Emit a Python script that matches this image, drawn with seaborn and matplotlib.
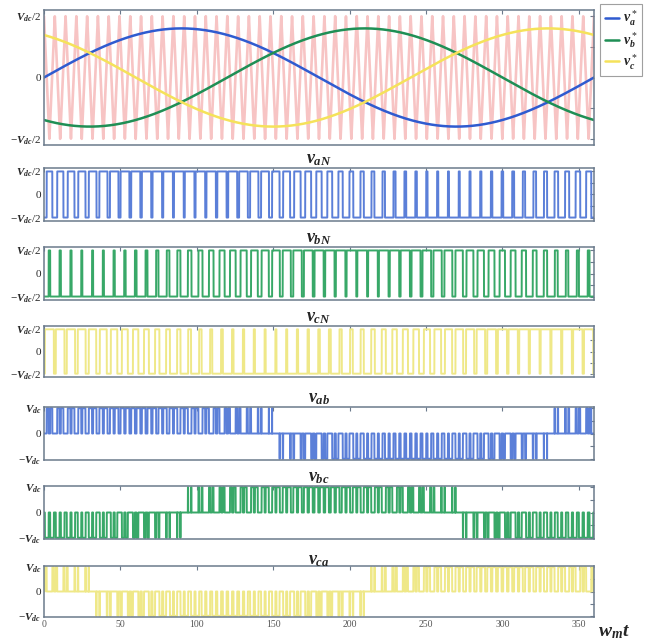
import numpy as np
import pandas as pd
import matplotlib
matplotlib.use("Agg")
import matplotlib.pyplot as plt
import seaborn as sns

# ---- data ----
angle_range = [0, 360]          # w_m t in degrees
mod_index = 0.8                 # reference peak / carrier peak
carrier_ratio = 51              # carrier periods per fundamental period
phase_a = 0
phase_b = -120
phase_c = 120
x_ticks = [0, 50, 100, 150, 200, 250, 300, 350]
ref_labels = [r"$v_a^*$", r"$v_b^*$", r"$v_c^*$"]
phase_titles = [r"$v_{aN}$", r"$v_{bN}$", r"$v_{cN}$"]
line_titles = [r"$v_{ab}$", r"$v_{bc}$", r"$v_{ca}$"]
half_labels = [r"$-V_{dc}/2$", "0", r"$V_{dc}/2$"]
full_labels = [r"$-V_{dc}$", "0", r"$V_{dc}$"]

# ---- style ----
sns.set_theme(style="white")
plt.rcParams["mathtext.fontset"] = "custom"
plt.rcParams["mathtext.rm"] = "Liberation Serif"
plt.rcParams["mathtext.it"] = "Liberation Serif:italic:bold"
plt.rcParams["mathtext.bf"] = "Liberation Serif:bold"
plt.rcParams["font.family"] = ["Liberation Serif", "DejaVu Sans"]

col_a, col_b, col_c = "#2f5bd0", "#1f8f55", "#f5e25a"
pwm_a, pwm_b, pwm_c = "#5b7fd8", "#38a868", "#efe888"
carrier_col = "#f08a8a"
frame_col = "#6b7a8c"

# ---- signals ----
theta = np.linspace(angle_range[0], angle_range[1], 24001)
ref_a = mod_index * np.sin(np.radians(theta + phase_a))
ref_b = mod_index * np.sin(np.radians(theta + phase_b))
ref_c = mod_index * np.sin(np.radians(theta + phase_c))
frac = (theta * carrier_ratio / 360.0) % 1.0
carrier = 2 * np.abs(2 * frac - 1) - 1

vaN = np.where(ref_a > carrier, 1.0, -1.0)
vbN = np.where(ref_b > carrier, 1.0, -1.0)
vcN = np.where(ref_c > carrier, 1.0, -1.0)
vab = (vaN - vbN) / 2
vbc = (vbN - vcN) / 2
vca = (vcN - vaN) / 2

df = pd.DataFrame({"theta": theta, "carrier": carrier, "ra": ref_a, "rb": ref_b, "rc": ref_c,
                   "vaN": vaN, "vbN": vbN, "vcN": vcN, "vab": vab, "vbc": vbc, "vca": vca})

W, H = 653, 644
fig = plt.figure(figsize=(W / 100, H / 100), dpi=100)

def box(y_top, y_bot):
    return [44 / W, (H - y_bot) / H, 550 / W, (y_bot - y_top) / H]

def style_axes(ax, ylim, ylabels, show_x=False):
    ax.set_xlim(angle_range)
    ax.set_ylim(ylim)
    ax.set_xticks(x_ticks)
    ax.set_yticks([-1, -0.5, 0, 0.5, 1])
    ax.set_yticklabels([ylabels[0], "", ylabels[1], "", ylabels[2]])
    ax.tick_params(direction="in", length=3, width=0.8, color=frame_col,
                   top=True, right=True, labelsize=8, pad=2)
    if not show_x:
        ax.set_xticklabels([])
    else:
        for t in ax.get_xticklabels():
            t.set_fontsize(7)
            t.set_color("#555555")
    for s in ax.spines.values():
        s.set_color(frame_col)
        s.set_linewidth(1.1)
        s.set_visible(True)
    ax.set_xlabel("")
    ax.set_ylabel("")

# top panel
ax0 = fig.add_axes(box(10, 145))
sns.lineplot(data=df, x="theta", y="carrier", ax=ax0, color=carrier_col, lw=1.9,
             alpha=0.5, estimator=None, sort=False)
for key, c, lab in zip(["ra", "rb", "rc"], [col_a, col_b, col_c], ref_labels):
    sns.lineplot(data=df, x="theta", y=key, ax=ax0, color=c, lw=1.8,
                 estimator=None, sort=False, label=lab)
style_axes(ax0, (-1.1, 1.1), half_labels)
handles, labels = ax0.get_legend_handles_labels()
ax0.get_legend().remove()
leg = fig.legend(handles, labels, loc="upper left", bbox_to_anchor=(600 / W, 1 - 4 / H),
                 fontsize=10, handlelength=1.0, handletextpad=0.3, labelspacing=0.15,
                 borderpad=0.35, borderaxespad=0.0, frameon=True, fancybox=False)
leg.get_frame().set_edgecolor("#888888")
leg.get_frame().set_linewidth(0.8)

phase_boxes = [(168, 221), (247, 300), (326, 377)]
for (yt, yb), key, c, title in zip(phase_boxes, ["vaN", "vbN", "vcN"], [pwm_a, pwm_b, pwm_c], phase_titles):
    ax = fig.add_axes(box(yt, yb))
    sns.lineplot(data=df, x="theta", y=key, ax=ax, color=c, lw=1.4,
                 estimator=None, sort=False)
    style_axes(ax, (-1.15, 1.15), half_labels)
    ax.set_title(title, fontsize=13, pad=1)

line_boxes = [(407, 460), (486, 539), (566, 617)]
for i, ((yt, yb), key, c, title) in enumerate(zip(line_boxes, ["vab", "vbc", "vca"],
                                                  [pwm_a, pwm_b, pwm_c], line_titles)):
    ax = fig.add_axes(box(yt, yb))
    sns.lineplot(data=df, x="theta", y=key, ax=ax, color=c, lw=1.4,
                 estimator=None, sort=False)
    style_axes(ax, (-1.05, 1.05), full_labels, show_x=(i == 2))
    ax.set_title(title, fontsize=13, pad=1)

fig.text(598 / W, 1 - 632 / H, r"$w_m t$", fontsize=14, va="center", ha="left")

fig.savefig("out.png", dpi=100)
